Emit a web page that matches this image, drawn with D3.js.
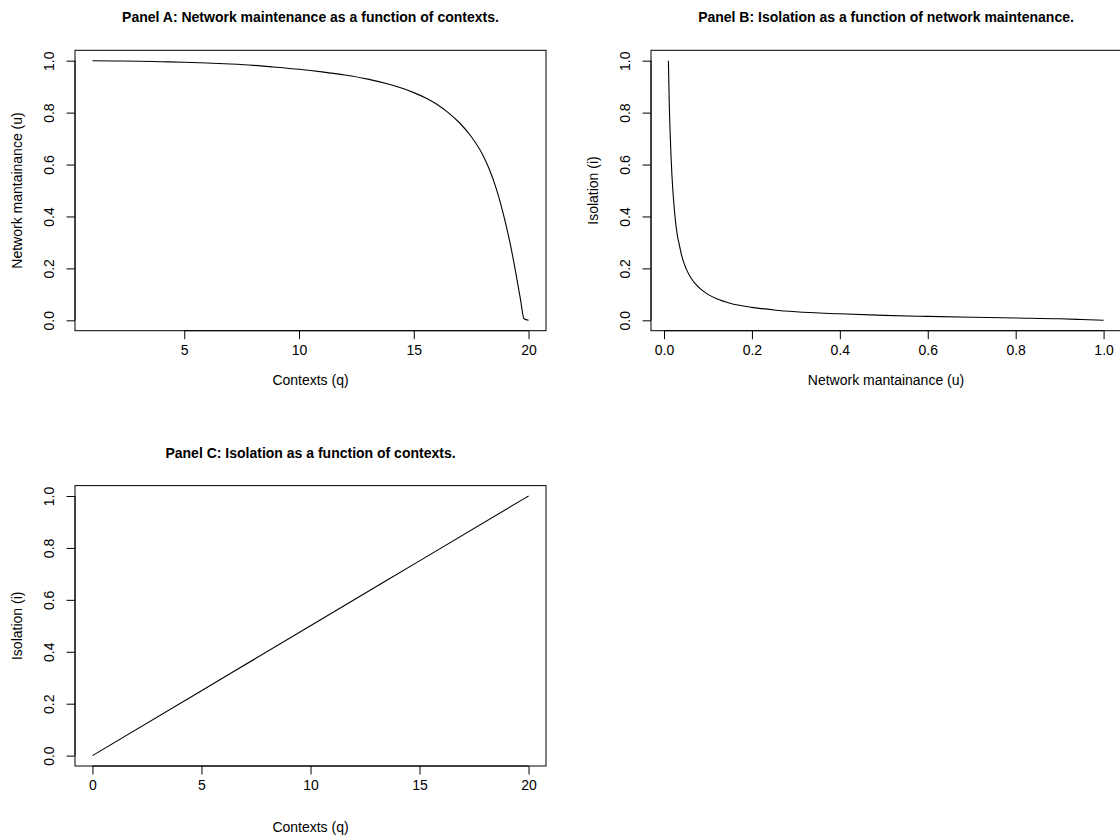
<!DOCTYPE html>
<html>
<head>
<meta charset="utf-8">
<script src="https://cdn.jsdelivr.net/npm/d3@7/dist/d3.min.js"></script>
<style>
  body { margin: 0; background: #fff; }
  svg { display: block; font-family: 'Liberation Sans', Arial, Helvetica, sans-serif; }
  .axis text { font-size: 14px; fill: #000; }
  .axis path, .axis line { stroke: #000; stroke-width: 1; }
  .box { fill: none; stroke: #000; stroke-width: 1; }
  .curve { fill: none; stroke: #000; stroke-width: 1.1; }
  .title { font-size: 14px; font-weight: bold; }
  .label { font-size: 14px; }
</style>
</head>
<body>
<svg width="1120" height="838"></svg>
<script>
// Panel A: network maintenance (u) against contexts (q)
const contextsA = [1, 2, 3, 4, 5, 6, 7, 8, 9, 10, 11, 12, 13, 14, 15, 15.5, 16, 16.5, 17,
  17.5, 18, 18.3, 18.6, 18.9, 19.2, 19.45, 19.65, 19.8, 20];
const maintenanceA = [1.0, 0.999, 0.998, 0.996, 0.994, 0.991, 0.987, 0.982, 0.975, 0.967,
  0.957, 0.945, 0.929, 0.907, 0.877, 0.857, 0.832, 0.800, 0.760, 0.708, 0.638, 0.580,
  0.505, 0.41, 0.295, 0.18, 0.08, 0.006, 0.0];

// Panel B: isolation (i) against network maintenance (u)
const maintenanceB = [0.010, 0.012, 0.014, 0.016, 0.018, 0.021, 0.025, 0.030, 0.035, 0.040,
  0.050, 0.060, 0.070, 0.085, 0.10, 0.12, 0.15, 0.20, 0.25, 0.30, 0.40, 0.50, 0.60, 0.70,
  0.80, 0.90, 0.95, 1.0];
const isolationB = [1.0, 0.83, 0.72, 0.63, 0.56, 0.48, 0.40, 0.33, 0.29, 0.25,
  0.20, 0.167, 0.143, 0.118, 0.10, 0.083, 0.066, 0.050, 0.040, 0.033, 0.025, 0.019, 0.015, 0.012,
  0.009, 0.006, 0.003, 0.0];

// Panel C: isolation (i) against contexts (q)
const contextsC = [0, 5, 10, 15, 20];
const isolationC = [0, 0.25, 0.5, 0.75, 1.0];

const ticksContextsA = [5, 10, 15, 20];
const ticksContextsC = [0, 5, 10, 15, 20];
const ticksUnit = [0, 0.2, 0.4, 0.6, 0.8, 1.0];

const svg = d3.select('svg');

// R style axis range: data extent widened by 4% on each side
const padded = (values) => {
  const [lo, hi] = d3.extent(values);
  const pad = (hi - lo) * 0.04;
  return [lo - pad, hi + pad];
};

const panels = [
  {
    title: 'Panel A: Network maintenance as a function of contexts.',
    xLabel: 'Contexts (q)', yLabel: 'Network mantainance (u)',
    xs: contextsA, ys: maintenanceA, xTicks: ticksContextsA, yTicks: ticksUnit,
    xFormat: d3.format('d'),
    left: 75, right: 546, top: 50.3, bottom: 330.7, xLabelOffset: 49
  },
  {
    title: 'Panel B: Isolation as a function of network maintenance.',
    xLabel: 'Network mantainance (u)', yLabel: 'Isolation (i)',
    xs: maintenanceB, ys: isolationB, xTicks: ticksUnit, yTicks: ticksUnit,
    xFormat: d3.format('.1f'),
    left: 651, right: 1121, top: 50.3, bottom: 330.7, xLabelOffset: 49
  },
  {
    title: 'Panel C: Isolation as a function of contexts.',
    xLabel: 'Contexts (q)', yLabel: 'Isolation (i)',
    xs: contextsC, ys: isolationC, xTicks: ticksContextsC, yTicks: ticksUnit,
    xFormat: d3.format('d'),
    left: 75, right: 546, top: 485.6, bottom: 766, xLabelOffset: 61
  }
];

panels.forEach((p) => {
  const x = d3.scaleLinear().domain(padded(p.xs)).range([p.left, p.right]);
  const y = d3.scaleLinear().domain(padded(p.ys)).range([p.bottom, p.top]);
  const g = svg.append('g');

  const xAxis = g.append('g')
    .attr('class', 'axis')
    .attr('transform', `translate(0,${p.bottom})`)
    .call(d3.axisBottom(x).tickValues(p.xTicks).tickFormat(p.xFormat)
      .tickSize(8.5).tickSizeOuter(0).tickPadding(6));
  xAxis.select('.domain')
    .attr('d', `M${x(p.xTicks[0])},0H${x(p.xTicks[p.xTicks.length - 1])}`);

  const yAxis = g.append('g')
    .attr('class', 'axis')
    .attr('transform', `translate(${p.left},0)`)
    .call(d3.axisLeft(y).tickValues(p.yTicks).tickFormat(d3.format('.1f'))
      .tickSize(8.5).tickSizeOuter(0));
  yAxis.select('.domain')
    .attr('d', `M0,${y(p.yTicks[0])}V${y(p.yTicks[p.yTicks.length - 1])}`);
  // y tick labels stand upright along the axis, as R draws them
  yAxis.selectAll('.tick text')
    .attr('x', null)
    .attr('dy', '0.35em')
    .attr('text-anchor', 'middle')
    .attr('transform', 'translate(-26,0) rotate(-90)');

  g.append('rect')
    .attr('class', 'box')
    .attr('x', p.left)
    .attr('y', p.top)
    .attr('width', p.right - p.left)
    .attr('height', p.bottom - p.top);

  g.append('path')
    .datum(d3.zip(p.xs, p.ys))
    .attr('class', 'curve')
    .attr('d', d3.line().curve(d3.curveMonotoneX).x((d) => x(d[0])).y((d) => y(d[1])));

  g.append('text')
    .attr('class', 'title')
    .attr('x', (p.left + p.right) / 2)
    .attr('y', p.top - 33)
    .attr('dy', '0.35em')
    .attr('text-anchor', 'middle')
    .text(p.title);

  g.append('text')
    .attr('class', 'label')
    .attr('x', (p.left + p.right) / 2)
    .attr('y', p.bottom + p.xLabelOffset)
    .attr('dy', '0.35em')
    .attr('text-anchor', 'middle')
    .text(p.xLabel);

  g.append('text')
    .attr('class', 'label')
    .attr('transform', `translate(${p.left - 58},${(p.top + p.bottom) / 2}) rotate(-90)`)
    .attr('dy', '0.35em')
    .attr('text-anchor', 'middle')
    .text(p.yLabel);
});
</script>
</body>
</html>
